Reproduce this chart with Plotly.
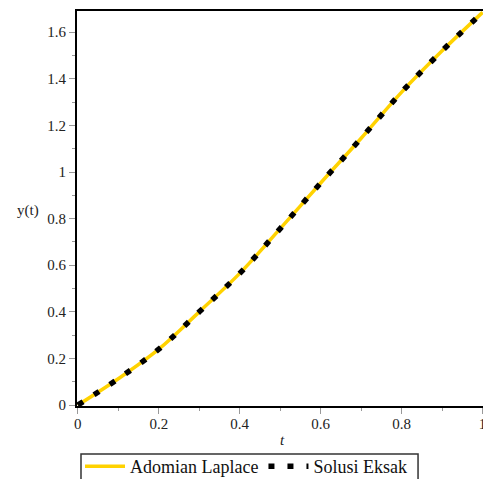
import plotly.graph_objects as go

t_vals = [0.0, 0.1, 0.2, 0.3, 0.4, 0.5, 0.6, 0.7, 0.8, 0.9, 1.0]
y_adomian = [0.0, 0.113, 0.24, 0.40, 0.565, 0.757, 0.953, 1.145, 1.343, 1.52, 1.685]
y_exact = [0.0, 0.113, 0.24, 0.40, 0.565, 0.757, 0.953, 1.145, 1.343, 1.52, 1.685]

x_ticks = [0, 0.2, 0.4, 0.6, 0.8, 1]
x_ticklabels = ["0", "0.2", "0.4", "0.6", "0.8", "1"]
y_ticks = [0, 0.2, 0.4, 0.6, 0.8, 1, 1.2, 1.4, 1.6]
y_ticklabels = ["0", "0.2", "0.4", "0.6", "0.8", "1", "1.2", "1.4", "1.6"]

serif = "Liberation Serif, Times New Roman, serif"

fig = go.Figure()
fig.add_trace(go.Scatter(
    x=t_vals, y=y_adomian, mode="lines", name="Adomian Laplace",
    line=dict(color="#FFD200", width=3.5, shape="spline"),
))
fig.add_trace(go.Scatter(
    x=t_vals, y=y_exact, mode="lines", name="Solusi Eksak",
    line=dict(color="black", width=5.5, dash="6px,13px", shape="spline"),
))

fig.update_layout(
    width=483, height=479,
    margin=dict(l=77, r=0, t=11, b=73, autoexpand=False),
    plot_bgcolor="white", paper_bgcolor="white",
    font=dict(family=serif, size=15, color="#222"),
    showlegend=True,
    legend=dict(
        orientation="h", x=0.0074, y=-0.1063, xanchor="left", yanchor="top",
        borderwidth=0, bgcolor="rgba(0,0,0,0)",
        font=dict(family=serif, size=18, color="#111"),
        itemwidth=40, tracegroupgap=0,
    ),
    xaxis=dict(
        range=[-0.002, 1.001], tickvals=x_ticks, ticktext=x_ticklabels,
        showgrid=False, zeroline=False, automargin=False,
        showline=True, linecolor="black", linewidth=2, mirror=True,
        ticks="outside", ticklen=6, tickcolor="#999", tickwidth=1,
        ticklabeloverflow="allow", ticklabelstandoff=-3,
        minor=dict(dtick=0.1, ticks="outside", ticklen=3, tickcolor="#999"),
        tickfont=dict(family=serif, size=15, color="#222"),
    ),
    yaxis=dict(
        range=[-0.004, 1.691], tickvals=y_ticks, ticktext=y_ticklabels,
        showgrid=False, zeroline=False, automargin=False,
        showline=True, linecolor="black", linewidth=2,
        ticks="outside", ticklen=6, tickcolor="#999", tickwidth=1,
        ticklabeloverflow="allow",
        minor=dict(dtick=0.1, ticks="outside", ticklen=3, tickcolor="#999"),
        tickfont=dict(family=serif, size=15, color="#222"),
    ),
    shapes=[
        dict(type="rect", xref="paper", yref="paper",
             x0=0.00985, x1=0.84, y0=-0.1215, y1=-0.2127,
             line=dict(color="#333", width=1.5), fillcolor="rgba(0,0,0,0)",
             layer="below"),
    ],
    annotations=[
        dict(text="y(t)", xref="paper", yref="paper", x=-0.1207, y=0.4937,
             xanchor="center", yanchor="middle",
             showarrow=False, font=dict(family=serif, size=15, color="#222")),
        dict(text="<i>t</i>", xref="paper", yref="paper", x=0.505, y=-0.086,
             xanchor="center", yanchor="middle",
             showarrow=False, font=dict(family=serif, size=15, color="#222")),
    ],
)

fig.write_html(
    "out.html",
    config={"displayModeBar": False},
    post_script="document.body.style.margin='0';document.body.style.overflow='hidden';",
)
